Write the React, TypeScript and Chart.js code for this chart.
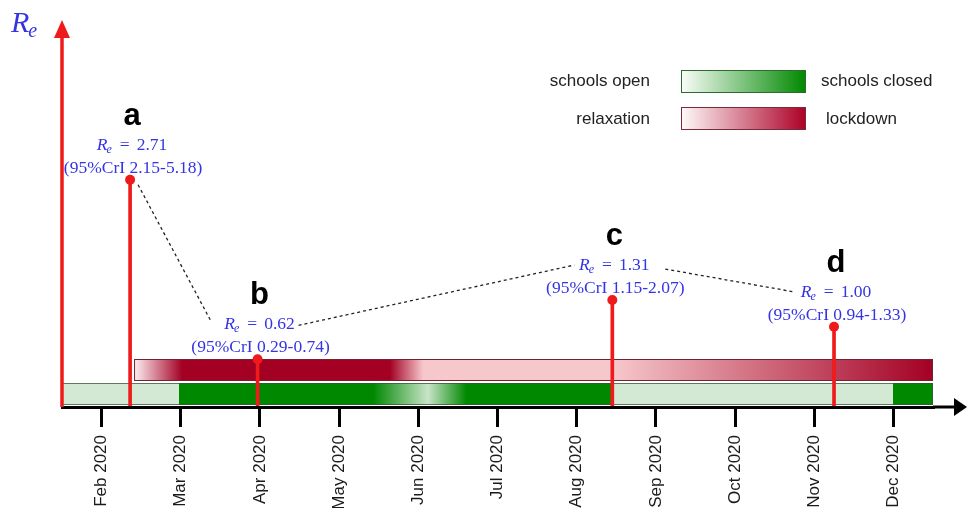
import React, { useEffect, useRef } from 'react';
import { Chart, registerables } from 'chart.js';

Chart.register(...registerables);

// ---------- data ----------
const monthLabels = ['Feb 2020', 'Mar 2020', 'Apr 2020', 'May 2020', 'Jun 2020', 'Jul 2020', 'Aug 2020', 'Sep 2020', 'Oct 2020', 'Nov 2020', 'Dec 2020'];
const monthTicks = [0, 1, 2, 3, 4, 5, 6, 7, 8, 9, 10, 11];

const periodLabels = ['a', 'b', 'c', 'd'];
const periodMonths = [0.86, 2.47, 6.95, 9.75];
const reValues = [2.71, 0.62, 1.31, 1.0];
const criLow = [2.15, 0.29, 1.15, 0.94];
const criHigh = [5.18, 0.74, 2.07, 1.33];

// school closure: 0 = open, 1 = closed
const schoolMonths = [0, 1.48, 1.48, 3.93, 4.62, 5.11, 6.97, 6.97, 10.49, 10.49, 11];
const schoolClosure = [0, 0, 1, 1, 0.05, 1, 1, 0, 0, 1, 1];
// lockdown strength: 0 = relaxation, 1 = lockdown
const lockMonths = [0.91, 1.52, 4.14, 4.56, 6.97, 11];
const lockStrength = [0, 1, 1, 0.2, 0.2, 1];

const yMin = 0.065;
const yMax = 4.547;

// ---------- styles ----------
const RED = '#ef1a1a';
const BLUE = '#3434e4';
type Stop = [number, number[]];
const greenRamp: Stop[] = [[0, [212, 233, 212]], [1, [0, 136, 0]]];
const redRamp: Stop[] = [[0, [253, 240, 242]], [0.2, [246, 199, 203]], [1, [163, 0, 36]]];

function rampColor(ramp: Stop[], t: number): string {
  for (let i = 1; i < ramp.length; i++) {
    const [t0, c0] = ramp[i - 1];
    const [t1, c1] = ramp[i];
    if (t <= t1 || i === ramp.length - 1) {
      const f = Math.max(0, Math.min(1, (t - t0) / (t1 - t0)));
      return `rgb(${c0.map((c, k) => Math.round(c + (c1[k] - c) * f)).join(',')})`;
    }
  }
  return 'black';
}

function drawBand(ctx: CanvasRenderingContext2D, xs: any, months: number[], levels: number[], ramp: Stop[], top: number, h: number, border: string) {
  const x0 = xs.getPixelForValue(months[0]);
  const x1 = xs.getPixelForValue(months[months.length - 1]);
  const g = ctx.createLinearGradient(x0, 0, x1, 0);
  months.forEach((m, i) => {
    const off = Math.max(0, Math.min(1, (xs.getPixelForValue(m) - x0) / (x1 - x0)));
    g.addColorStop(off, rampColor(ramp, levels[i]));
  });
  ctx.fillStyle = g;
  ctx.fillRect(x0, top, x1 - x0, h);
  ctx.strokeStyle = border;
  ctx.lineWidth = 1;
  ctx.strokeRect(x0 + 0.5, top + 0.5, x1 - x0 - 1, h - 1);
}

function drawRe(ctx: CanvasRenderingContext2D, cx: number, baseline: number, value: string, size: number, gap: number) {
  const big = `${size}px "Liberation Serif"`;
  const itBig = `italic ${size}px "Liberation Serif"`;
  const itSmall = `italic ${Math.round(size * 0.7)}px "Liberation Serif"`;
  ctx.font = itBig; const wR = ctx.measureText('R').width;
  ctx.font = itSmall; const wE = ctx.measureText('e').width;
  ctx.font = big; const wEq = ctx.measureText('=').width; const wV = ctx.measureText(value).width;
  const total = wR + wE + gap + wEq + gap + wV;
  let x = cx - total / 2;
  ctx.textAlign = 'left';
  ctx.textBaseline = 'alphabetic';
  ctx.font = itBig; ctx.fillText('R', x, baseline); x += wR;
  ctx.font = itSmall; ctx.fillText('e', x - 1, baseline + 3); x += wE + gap;
  ctx.font = big; ctx.fillText('=', x, baseline); x += wEq + gap;
  ctx.fillText(value, x, baseline);
}

const decorPlugin = {
  id: 'decor',
  beforeDatasetsDraw(chart: any) {
    const { ctx, chartArea, scales } = chart;
    const xs = scales.x;
    const b = chartArea.bottom;
    ctx.save();
    drawBand(ctx, xs, schoolMonths, schoolClosure, greenRamp, b - 24, 22, 'rgba(60,80,60,0.75)');
    drawBand(ctx, xs, lockMonths, lockStrength, redRamp, b - 48, 22, '#6e2431');
    ctx.restore();
  },
  afterDraw(chart: any) {
    const { ctx, chartArea, scales, width } = chart;
    const xs = scales.x;
    const ys = scales.y;
    ctx.save();

    // y axis arrow
    const L = chartArea.left;
    ctx.strokeStyle = RED;
    ctx.fillStyle = RED;
    ctx.lineWidth = 3.5;
    ctx.beginPath();
    ctx.moveTo(L, chartArea.bottom);
    ctx.lineTo(L, chartArea.top + 12);
    ctx.stroke();
    ctx.beginPath();
    ctx.moveTo(L, chartArea.top - 2);
    ctx.lineTo(L - 8, chartArea.top + 16);
    ctx.lineTo(L + 8, chartArea.top + 16);
    ctx.closePath();
    ctx.fill();

    // x axis arrow
    ctx.strokeStyle = '#000';
    ctx.fillStyle = '#000';
    ctx.lineWidth = 3;
    ctx.beginPath();
    ctx.moveTo(chartArea.right, chartArea.bottom);
    ctx.lineTo(width - 10, chartArea.bottom);
    ctx.stroke();
    ctx.beginPath();
    ctx.moveTo(width - 1, chartArea.bottom);
    ctx.lineTo(width - 14, chartArea.bottom - 9);
    ctx.lineTo(width - 14, chartArea.bottom + 9);
    ctx.closePath();
    ctx.fill();

    // y label
    ctx.fillStyle = BLUE;
    ctx.textAlign = 'left';
    ctx.textBaseline = 'alphabetic';
    ctx.font = 'italic 30px "Liberation Serif"';
    ctx.fillText('R', 11, 32);
    const wR = ctx.measureText('R').width;
    ctx.font = 'italic 20px "Liberation Serif"';
    ctx.fillText('e', 11 + wR - 1, 37);

    // annotations
    const pts = periodMonths.map((m, i) => ({ x: xs.getPixelForValue(m), y: ys.getPixelForValue(reValues[i]) }));
    pts.forEach((p, i) => {
      ctx.fillStyle = '#000';
      ctx.font = 'bold 31px "Liberation Sans"';
      ctx.textAlign = 'center';
      ctx.textBaseline = 'alphabetic';
      ctx.fillText(periodLabels[i], p.x + 2, p.y - 55);
      ctx.fillStyle = BLUE;
      drawRe(ctx, p.x + 2, p.y - 30, reValues[i].toFixed(2), 17.5, 7);
      ctx.font = '17.5px "Liberation Serif"';
      ctx.textAlign = 'center';
      ctx.fillText(`(95%CrI ${criLow[i].toFixed(2)}-${criHigh[i].toFixed(2)})`, p.x + 3, p.y - 7);
    });

    // dashed connectors
    ctx.strokeStyle = '#222';
    ctx.lineWidth = 1.3;
    ctx.setLineDash([3, 3]);
    const segs = [
      [pts[0].x + 8, pts[0].y + 5, pts[1].x - 46, pts[1].y - 37],
      [pts[1].x + 41, pts[1].y - 34, pts[2].x - 38, pts[2].y - 35],
      [pts[2].x + 53, pts[2].y - 31, pts[3].x - 41, pts[3].y - 35],
    ];
    segs.forEach(([a, b, c, d]) => {
      ctx.beginPath();
      ctx.moveTo(a, b);
      ctx.lineTo(c, d);
      ctx.stroke();
    });
    ctx.setLineDash([]);

    // legend
    const lx = 681, lw = 125, lh = 23;
    const gg = ctx.createLinearGradient(lx, 0, lx + lw, 0);
    gg.addColorStop(0, 'rgb(250,253,250)');
    gg.addColorStop(1, 'rgb(0,136,0)');
    ctx.fillStyle = gg;
    ctx.fillRect(lx, 70, lw, lh);
    ctx.strokeStyle = '#2e6b2e';
    ctx.lineWidth = 1;
    ctx.strokeRect(lx + 0.5, 70.5, lw - 1, lh - 1);
    const rg = ctx.createLinearGradient(lx, 0, lx + lw, 0);
    rg.addColorStop(0, 'rgb(255,250,250)');
    rg.addColorStop(1, 'rgb(172,0,38)');
    ctx.fillStyle = rg;
    ctx.fillRect(lx, 107, lw, lh);
    ctx.strokeStyle = '#7a2a38';
    ctx.strokeRect(lx + 0.5, 107.5, lw - 1, lh - 1);

    ctx.fillStyle = '#222';
    ctx.font = '17px "Liberation Sans"';
    ctx.textBaseline = 'middle';
    ctx.textAlign = 'right';
    ctx.fillText('schools open', 650, 81);
    ctx.fillText('relaxation', 650, 119);
    ctx.textAlign = 'left';
    ctx.fillText('schools closed', 821, 81);
    ctx.fillText('lockdown', 826, 119);

    ctx.restore();
  },
};

export default function App() {
  const ref = useRef<HTMLCanvasElement | null>(null);
  useEffect(() => {
    document.body.style.margin = '0';
    if (!ref.current) return;
    const pts = periodMonths.map((m, i) => ({ x: m, y: reValues[i] }));
    const chart = new Chart(ref.current, {
      type: 'bar',
      data: {
        datasets: [
          {
            type: 'line',
            data: pts,
            showLine: false,
            pointRadius: 5,
            pointHoverRadius: 5,
            pointBackgroundColor: RED,
            pointBorderWidth: 0,
            clip: false,
            order: 0,
          } as any,
          {
            type: 'bar',
            data: pts,
            backgroundColor: RED,
            barThickness: 3,
            clip: 0,
            order: 1,
          } as any,
        ],
      },
      options: {
        animation: false,
        responsive: true,
        maintainAspectRatio: false,
        devicePixelRatio: 1,
        layout: { padding: { left: 62, right: 35, top: 22, bottom: 0 } },
        plugins: { legend: { display: false }, tooltip: { enabled: false } },
        events: [],
        scales: {
          x: {
            type: 'linear',
            min: 0,
            max: 11,
            offset: false,
            afterBuildTicks: (axis: any) => {
              axis.ticks = monthTicks.map((v) => ({ value: v }));
            },
            afterFit: (axis: any) => {
              axis.height = 101;
            },
            grid: { drawOnChartArea: false, drawTicks: true, tickLength: 20, color: '#000', lineWidth: 3 },
            border: { display: true, color: '#000', width: 3, z: 1 },
            ticks: {
              autoSkip: false,
              minRotation: 90,
              maxRotation: 90,
              padding: 8,
              labelOffset: 39.6,
              color: '#1a1a1a',
              font: { family: '"Liberation Sans"', size: 17 },
              callback: (_v: any, i: number) => monthLabels[i] ?? '',
            },
          },
          y: { type: 'linear', display: false, min: yMin, max: yMax },
        },
      },
      plugins: [decorPlugin],
    });
    return () => chart.destroy();
  }, []);
  return (
    <div style={{ width: 968, height: 508, position: 'relative' }}>
      <canvas ref={ref} />
    </div>
  );
}
